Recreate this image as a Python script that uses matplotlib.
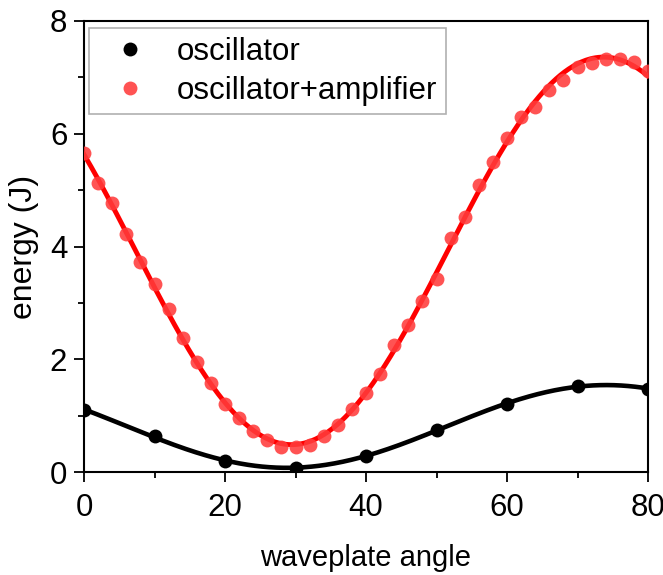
import numpy as np
import matplotlib
matplotlib.use("Agg")
import matplotlib.pyplot as plt
from matplotlib.ticker import MultipleLocator

# ---- data ----
osc_angle = [0, 10, 20, 30, 40, 50, 60, 70, 80]
osc_energy = [1.10, 0.63, 0.20, 0.07, 0.29, 0.74, 1.21, 1.52, 1.48]

amp_angle = list(range(0, 81, 2))
amp_energy = [5.65, 5.12, 4.77, 4.22, 3.72, 3.33, 2.89, 2.38, 1.96, 1.58,
              1.21, 0.96, 0.73, 0.57, 0.44, 0.44, 0.48, 0.64, 0.83, 1.12,
              1.41, 1.74, 2.26, 2.61, 3.04, 3.42, 4.15, 4.53, 5.09, 5.50,
              5.92, 6.29, 6.48, 6.78, 6.95, 7.19, 7.25, 7.32, 7.33, 7.28,
              7.12]

labels = ["oscillator", "oscillator+amplifier"]
x_ticks = [0, 20, 40, 60, 80]
y_ticks = [0, 2, 4, 6, 8]

plt.rcParams["font.family"] = ["Liberation Sans", "DejaVu Sans"]


def sin_fit(x, y):
    """Least-squares sinusoid fit; period chosen by grid search."""
    x = np.asarray(x, float)
    y = np.asarray(y, float)
    best = None
    for period in np.linspace(80, 105, 251):
        w = 2 * np.pi / period
        M = np.column_stack([np.ones_like(x), np.cos(w * x), np.sin(w * x)])
        coef, *_ = np.linalg.lstsq(M, y, rcond=None)
        r = np.sum((M @ coef - y) ** 2)
        if best is None or r < best[0]:
            best = (r, w, coef)
    _, w, coef = best
    xf = np.linspace(0, 80, 400)
    yf = coef[0] + coef[1] * np.cos(w * xf) + coef[2] * np.sin(w * xf)
    return xf, yf


fig = plt.figure(figsize=(6.63, 5.75), dpi=100)
ax = fig.add_axes([84 / 663, (575 - 472) / 575, 564 / 663, 451 / 575])

xf, yf = sin_fit(amp_angle, amp_energy)
ax.plot(xf, yf, color="#ff0000", lw=3.5, zorder=3)
ax.plot(amp_angle, amp_energy, "o", color="#ff3b3b", alpha=0.88, ms=10,
        mec="none", zorder=4, label=labels[1])

xf, yf = sin_fit(osc_angle, osc_energy)
ax.plot(xf, yf, color="black", lw=3.3, zorder=5)
ax.plot(osc_angle, osc_energy, "o", color="black", ms=10, mec="none",
        zorder=6, label=labels[0])

ax.set_xlim(0, 80)
ax.set_ylim(0, 8)
ax.set_xticks(x_ticks)
ax.set_yticks(y_ticks)
ax.xaxis.set_minor_locator(MultipleLocator(10))
ax.yaxis.set_minor_locator(MultipleLocator(1))
ax.tick_params(which="major", direction="out", length=7, width=1.3,
               labelsize=22.5, top=False, right=False)
ax.tick_params(axis="x", which="major", pad=8)
ax.tick_params(axis="y", which="major", pad=5)
ax.tick_params(which="minor", direction="out", length=4, width=1.3,
               top=False, right=False)
for s in ax.spines.values():
    s.set_linewidth(1.5)

ax.set_xlabel("waveplate angle", fontsize=21, labelpad=15)
ax.set_ylabel("energy (J)", fontsize=23, labelpad=8)

h, l = ax.get_legend_handles_labels()
order = [1, 0]
leg = ax.legend([h[i] for i in order], [l[i] for i in order],
                loc="upper left", bbox_to_anchor=(0.009, 0.984),
                fontsize=22.5, frameon=True, fancybox=False, edgecolor="#b0b0b0",
                framealpha=1, handlelength=2.04, handletextpad=0.5,
                borderpad=0.28, labelspacing=0.28, borderaxespad=0)
leg.get_frame().set_linewidth(1.2)

fig.savefig("out.png", dpi=100)
